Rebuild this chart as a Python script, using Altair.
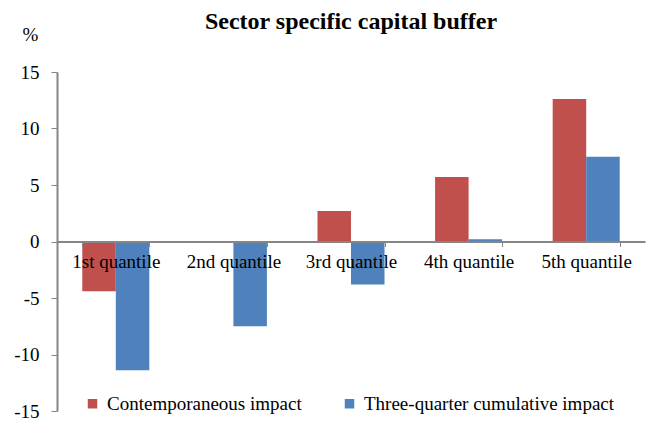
import altair as alt
import pandas as pd

categories = ["1st quantile", "2nd quantile", "3rd quantile", "4th quantile", "5th quantile"]
contemporaneous = [-4.4, 0.0, 2.7, 5.7, 12.6]
cumulative = [-11.4, -7.5, -3.8, 0.2, 7.5]
series = ["Contemporaneous impact", "Three-quarter cumulative impact"]
colors = ["#C0504D", "#4F81BD"]
y_ticks = [-15, -10, -5, 0, 5, 10, 15]

rows = []
for c, a, b in zip(categories, contemporaneous, cumulative):
    rows.append({"cat": c, "series": series[0], "value": a})
    rows.append({"cat": c, "series": series[1], "value": b})
df = pd.DataFrame(rows)

FONT = "Liberation Serif"
AX = "#868686"
H = 339

chart = alt.Chart(df).mark_bar().encode(
    x=alt.X("cat:N", sort=categories,
            scale=alt.Scale(paddingInner=0.43, paddingOuter=0.215),
            axis=alt.Axis(title=None, labelAngle=0, offset=-H / 2, tickBand="extent",
                          domainColor=AX, tickColor=AX, tickSize=5, domainWidth=2,
                          labelFont=FONT, labelFontSize=19, labelColor="black",
                          labelPadding=6, zindex=1)),
    xOffset=alt.XOffset("series:N", sort=series),
    y=alt.Y("value:Q", scale=alt.Scale(domain=[-15, 15], nice=False, zero=False),
            axis=alt.Axis(values=y_ticks, grid=False, title="%", titleAngle=0,
                          titleX=-27, titleY=-32, titleAlign="center",
                          titleBaseline="alphabetic", titleFont=FONT, titleFontSize=19,
                          titleFontWeight="normal", titleColor="black",
                          labelExpr="'' + datum.value",
                          labelFont=FONT, labelFontSize=19, labelColor="black",
                          labelPadding=12, tickSize=6, tickColor=AX,
                          domainColor=AX, domainWidth=2)),
    color=alt.Color("series:N", sort=series,
                    scale=alt.Scale(domain=series, range=colors),
                    legend=alt.Legend(orient="none", legendX=26, legendY=322,
                                      direction="horizontal", title=None,
                                      symbolType="square", symbolSize=90,
                                      symbolStrokeWidth=0, labelFont=FONT,
                                      labelFontSize=19, labelColor="black",
                                      columnPadding=38, labelLimit=400,
                                      labelOffset=5)),
).properties(
    width=588,
    height=H,
    autosize="none",
    padding={"left": 49, "top": 64, "right": 3, "bottom": 10},
    title=alt.TitleParams("Sector specific capital buffer", font=FONT, fontSize=24,
                          fontWeight="bold", anchor="middle", color="black",
                          offset=4, dy=13),
).configure_view(stroke=None)

chart.save("out.html", embed_options={"renderer": "svg", "actions": False})
